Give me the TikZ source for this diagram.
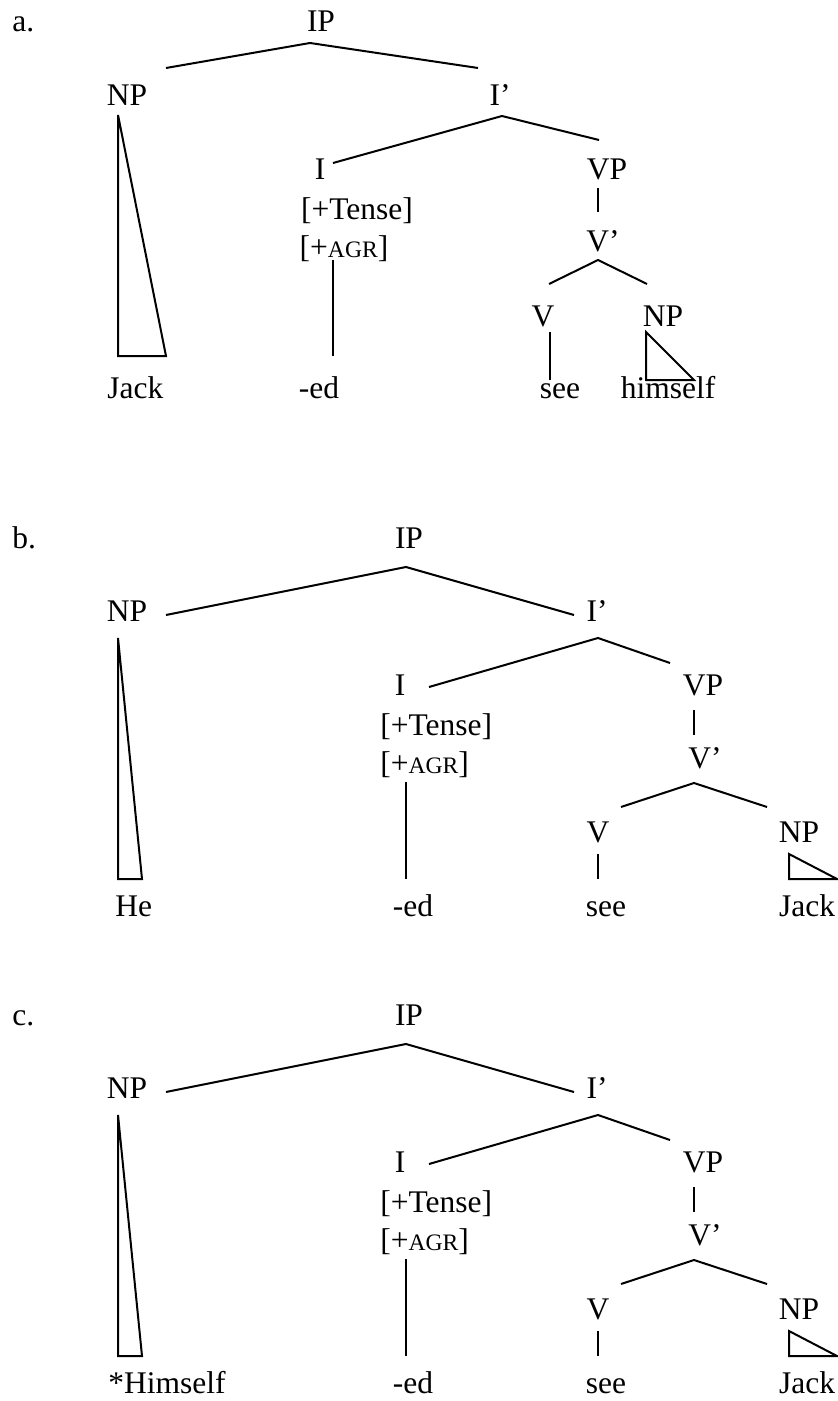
\documentclass[tikz,border=0pt]{standalone}
\usepackage{fontspec}
\setmainfont{Liberation Serif}
% small-caps style feature label
\newcommand\agrlabel{{\fontsize{11.8}{14}\selectfont AGR}}
% trees (b) and (c): same shape, different subject
% #1 name prefix, #2 item letter, #3 subject word, #4 subject left edge
\newcommand\bctree[4]{%
  \node[lbl,anchor=base west] (#1lab) at (12,548) {#2.};
  \node[lbl] (#1IP)    at (409,548) {IP};
  \node[lbl] (#1NP)    at (127,621) {NP};
  \node[lbl] (#1Ibar)  at (597,621) {I’};
  \node[lbl] (#1I)     at (400,695) {I};
  \node[lbl,anchor=base west] (#1Tense) at (380,735) {[+Tense]};
  \node[lbl,anchor=base west] (#1Agr)   at (380,773) {[+\agrlabel]};
  \node[lbl] (#1VP)    at (703,695) {VP};
  \node[lbl] (#1Vbar)  at (705,768) {V’};
  \node[lbl] (#1V)     at (598,842) {V};
  \node[lbl] (#1NPo)   at (799,842) {NP};
  \node[lbl,anchor=base west] (#1subj) at (#4,916) {#3};
  \node[lbl] (#1ed)    at (413,916) {-ed};
  \node[lbl] (#1see)   at (606,916) {see};
  \node[lbl] (#1obj)   at (807,916) {Jack};
  % branch points
  \coordinate (#1IPt)   at (406,567);
  \coordinate (#1IPl)   at (166,615);
  \coordinate (#1IPr)   at (574,615);
  \coordinate (#1Ibt)   at (598,638);
  \coordinate (#1Ibl)   at (429,687);
  \coordinate (#1Ibr)   at (670,663);
  \coordinate (#1VPb)   at (694,710);
  \coordinate (#1VPe)   at (694,735);
  \coordinate (#1Vbt)   at (694,783);
  \coordinate (#1Vbl)   at (621,807);
  \coordinate (#1Vbr)   at (767,807);
  \coordinate (#1Vb)    at (598,854);
  \coordinate (#1Ve)    at (598,879);
  \coordinate (#1Ib)    at (406,782);
  \coordinate (#1Ie)    at (406,879);
  \coordinate (#1Sa)    at (118,638);
  \coordinate (#1Sl)    at (118,879);
  \coordinate (#1Sr)    at (142,879);
  \coordinate (#1Oa)    at (789,854);
  \coordinate (#1Ol)    at (789,879);
  \coordinate (#1Or)    at (837,879);
  \draw[branch] (#1IPl) -- (#1IPt) -- (#1IPr);
  \draw[branch] (#1Ibl) -- (#1Ibt) -- (#1Ibr);
  \draw[branch] (#1VPb) -- (#1VPe);
  \draw[branch] (#1Vbl) -- (#1Vbt) -- (#1Vbr);
  \draw[branch] (#1Vb) -- (#1Ve);
  \draw[branch] (#1Ib) -- (#1Ie);
  \draw[branch] (#1Sa) -- (#1Sl) -- (#1Sr) -- cycle;
  \draw[branch] (#1Oa) -- (#1Ol) -- (#1Or) -- cycle;
}
\begin{document}
\begin{tikzpicture}[x=0.5pt,y=-0.5pt,
  lbl/.style={anchor=base,inner sep=0pt,font=\fontsize{15.75}{18}\selectfont},
  branch/.style={line width=1pt,line join=miter}]
\useasboundingbox (0,0) rectangle (838,1401);

% ---- tree (a) ----
\node[lbl,anchor=base west] (alab) at (12,32) {a.};
\node[lbl] (aIP)    at (321,32)  {IP};
\node[lbl] (aNP)    at (127,106) {NP};
\node[lbl] (aIbar)  at (500,106) {I’};
\node[lbl] (aI)     at (320,180) {I};
\node[lbl] (aTense) at (357,220) {[+Tense]};
\node[lbl] (aAgr)   at (344,258) {[+\agrlabel]};
\node[lbl] (aVP)    at (607,180) {VP};
\node[lbl] (aVbar)  at (603,252) {V’};
\node[lbl] (aV)     at (543,327) {V};
\node[lbl] (aNPo)   at (663,327) {NP};
\node[lbl,anchor=base west] (asubj) at (107,398) {Jack};
\node[lbl] (aed)    at (319,398) {-ed};
\node[lbl] (asee)   at (560,398) {see};
\node[lbl] (aobj)   at (668,398) {himself};

\coordinate (aIPt) at (310,43);
\coordinate (aIPl) at (166,68);
\coordinate (aIPr) at (478,68);
\coordinate (aIbt) at (502,116);
\coordinate (aIbl) at (333,163);
\coordinate (aIbr) at (599,140);
\coordinate (aVPb) at (598,188);
\coordinate (aVPe) at (598,212);
\coordinate (aVbt) at (598,260);
\coordinate (aVbl) at (549,284);
\coordinate (aVbr) at (647,284);
\coordinate (aVb)  at (550,332);
\coordinate (aVe)  at (550,380);
\coordinate (aIb)  at (333,260);
\coordinate (aIe)  at (333,356);
\coordinate (aSa)  at (118,115);
\coordinate (aSl)  at (118,356);
\coordinate (aSr)  at (166,356);
\coordinate (aOa)  at (646,332);
\coordinate (aOl)  at (646,380);
\coordinate (aOr)  at (694,380);

\draw[branch] (aIPl) -- (aIPt) -- (aIPr);
\draw[branch] (aIbl) -- (aIbt) -- (aIbr);
\draw[branch] (aVPb) -- (aVPe);
\draw[branch] (aVbl) -- (aVbt) -- (aVbr);
\draw[branch] (aVb) -- (aVe);
\draw[branch] (aIb) -- (aIe);
\draw[branch] (aSa) -- (aSl) -- (aSr) -- cycle;
\draw[branch] (aOa) -- (aOl) -- (aOr) -- cycle;

% ---- tree (b) ----
\bctree{b}{b}{He}{115}

% ---- tree (c) ----
\begin{scope}[shift={(0,477)}]
\bctree{c}{c}{*Himself}{108}
\end{scope}
\end{tikzpicture}
\end{document}
